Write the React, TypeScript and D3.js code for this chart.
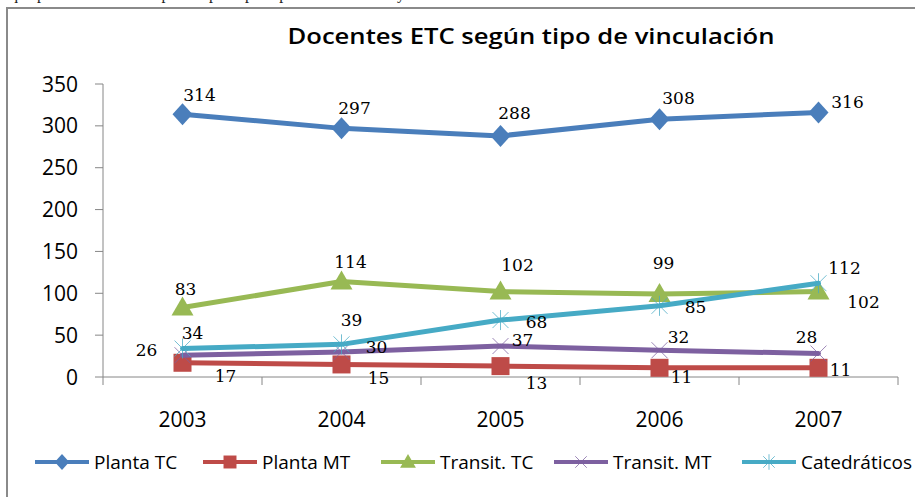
import * as d3 from "d3";

const years = ["2003", "2004", "2005", "2006", "2007"];
const seriesNames = ["Planta TC", "Planta MT", "Transit. TC", "Transit. MT", "Catedráticos"];
const plantaTC = [314, 297, 288, 308, 316];
const plantaMT = [17, 15, 13, 11, 11];
const transitTC = [83, 114, 102, 99, 102];
const transitMT = [26, 30, 37, 32, 28];
const catedraticos = [34, 39, 68, 85, 112];
const yTicks = [0, 50, 100, 150, 200, 250, 300, 350];

const allValues = [plantaTC, plantaMT, transitTC, transitMT, catedraticos];
const colors = ["#4A7EBB", "#BE4B48", "#98B954", "#7D60A0", "#46AAC5"];
const markers = ["diamond", "square", "triangle", "x", "star"];

// label offsets from the point (dx, dy), roughly as Excel placed them
const labelOffsets: [number, number][][] = [
  [[17, -19], [13, -20], [14, -23], [19, -21], [29, -11]],
  [[43, 13], [37, 13], [36, 17], [22, 9], [22, 2]],
  [[3, -19], [9, -20], [17, -27], [4, -31], [45, 10]],
  [[-36, -5], [35, -5], [22, -6], [19, -13], [-12, -17]],
  [[10, -16], [10, -24], [36, 2], [36, 1], [26, -15]],
];

const W = 915;
const H = 497;
const plot = { left: 103, right: 898, top: 84, bottom: 377 };
const legendX = [35, 203, 381, 554, 742];
const legendY = 462;

const sans = "'Open Sans', sans-serif";
const serif = "'DejaVu Serif', serif";

const Marker = ({
  type,
  x,
  y,
  color,
  k = 1,
}: {
  type: string;
  x: number;
  y: number;
  color: string;
  k?: number;
}) => {
  if (type === "diamond")
    return (
      <path
        d={`M${x},${y - 11 * k}L${x + 10 * k},${y}L${x},${y + 11 * k}L${x - 10 * k},${y}Z`}
        fill={color}
      />
    );
  if (type === "square")
    return <rect x={x - 9 * k} y={y - 9 * k} width={18 * k} height={18 * k} fill={color} />;
  if (type === "triangle")
    return (
      <path
        d={`M${x},${y - 11 * k}L${x + 11 * k},${y + 8 * k}L${x - 11 * k},${y + 8 * k}Z`}
        fill={color}
      />
    );
  const s = 8 * k;
  const xs = (
    <>
      <line x1={x - s} y1={y - s} x2={x + s} y2={y + s} stroke={color} strokeWidth={1} />
      <line x1={x - s} y1={y + s} x2={x + s} y2={y - s} stroke={color} strokeWidth={1} />
    </>
  );
  if (type === "x") return <g opacity={0.75}>{xs}</g>;
  return (
    <g opacity={0.75}>
      {xs}
      <line x1={x} y1={y - s - 2} x2={x} y2={y + s + 2} stroke={color} strokeWidth={1} />
    </g>
  );
};

const App = () => {
  const x = d3.scaleBand<string>().domain(years).range([plot.left, plot.right]).padding(0);
  const y = d3.scaleLinear().domain([0, 350]).range([plot.bottom, plot.top]);
  const cx = (yr: string) => (x(yr) ?? 0) + x.bandwidth() / 2;
  const line = d3
    .line<number>()
    .x((_, i) => cx(years[i]))
    .y((d) => y(d));
  const boundaries = years.map((yr) => x(yr) ?? 0).concat([plot.right]);

  return (
    <svg
      width={W}
      height={H}
      viewBox={`0 0 ${W} ${H}`}
      style={{ position: "fixed", left: 0, top: 0, background: "#fff" }}
    >
      <rect width={W} height={H} fill="#fff" />
      {/* tail of the document text above the chart */}
      <text x={10} y={-1} fontFamily="'Liberation Serif', serif" fontSize={16} fill="#222">
        que permanentes a tiempo completo por tipo de vinculación y dedicación
      </text>
      <path d={`M7,${H}V8H${W + 2}`} fill="none" stroke="#8a8a8a" strokeWidth={2} />

      <text
        x={531}
        y={44}
        textAnchor="middle"
        fontFamily={sans}
        fontWeight={600}
        fontSize={22}
        textLength={487}
        lengthAdjust="spacingAndGlyphs"
        fill="#000"
      >
        Docentes ETC según tipo de vinculación
      </text>

      {/* y axis */}
      <line x1={plot.left} x2={plot.left} y1={plot.top} y2={plot.bottom} stroke="#868686" />
      {yTicks.map((t) => (
        <g key={t}>
          <line x1={plot.left - 8} x2={plot.left} y1={y(t)} y2={y(t)} stroke="#868686" />
          <text
            x={78}
            y={y(t)}
            dy="0.36em"
            textAnchor="end"
            fontFamily={sans}
            fontSize={21}
            fill="#000"
          >
            {t}
          </text>
        </g>
      ))}

      {/* x axis */}
      <line x1={plot.left} x2={plot.right} y1={plot.bottom} y2={plot.bottom} stroke="#868686" />
      {boundaries.map((b, i) => (
        <line key={i} x1={b} x2={b} y1={plot.bottom} y2={plot.bottom + 8} stroke="#868686" />
      ))}
      {years.map((yr) => (
        <text
          key={yr}
          x={cx(yr)}
          y={419}
          dy="0.36em"
          textAnchor="middle"
          fontFamily={sans}
          fontSize={21}
          fill="#000"
        >
          {yr}
        </text>
      ))}

      {/* series */}
      {allValues.map((vals, si) => (
        <g key={si}>
          <path
            d={line(vals) ?? undefined}
            fill="none"
            stroke={colors[si]}
            strokeWidth={5}
            strokeLinejoin="round"
            strokeLinecap="round"
          />
          {vals.map((v, i) => (
            <Marker key={i} type={markers[si]} x={cx(years[i])} y={y(v)} color={colors[si]} />
          ))}
        </g>
      ))}
      {allValues.map((vals, si) =>
        vals.map((v, i) => (
          <text
            key={`${si}-${i}`}
            x={cx(years[i]) + labelOffsets[si][i][0]}
            y={y(v) + labelOffsets[si][i][1]}
            dy="0.36em"
            textAnchor="middle"
            fontFamily={serif}
            fontSize={17}
            fill="#000"
          >
            {v}
          </text>
        ))
      )}

      {/* legend */}
      {seriesNames.map((name, si) => {
        const lx = legendX[si];
        return (
          <g key={name}>
            <line x1={lx} x2={lx + 54} y1={legendY} y2={legendY} stroke={colors[si]} strokeWidth={4} />
            <Marker type={markers[si]} x={lx + 27} y={legendY} color={colors[si]} k={0.72} />
            <text
              x={lx + 59}
              y={legendY}
              dy="0.36em"
              fontFamily={sans}
              fontSize={19}
              fill="#000"
            >
              {name}
            </text>
          </g>
        );
      })}
    </svg>
  );
};

export default App;
